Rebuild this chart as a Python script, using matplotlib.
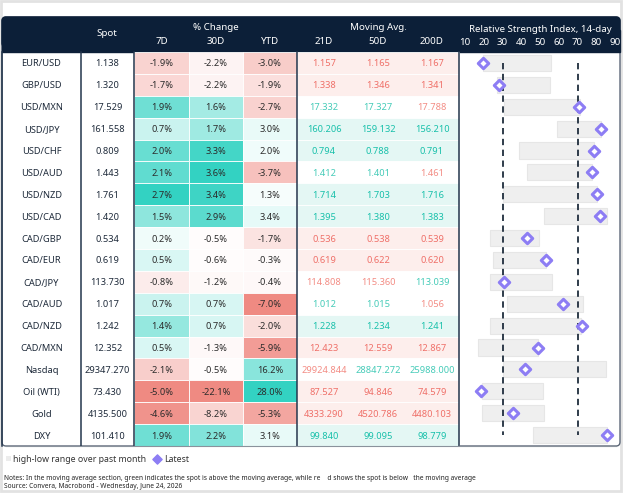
import matplotlib
matplotlib.use("Agg")
import matplotlib.pyplot as plt
from matplotlib.patches import Rectangle, FancyBboxPatch
from matplotlib.colors import to_rgb

plt.rcParams['font.family'] = ['Noto Sans', 'DejaVu Sans']

# ---- data ----
labels = ["EUR/USD", "GBP/USD", "USD/MXN", "USD/JPY", "USD/CHF", "USD/AUD", "USD/NZD",
          "USD/CAD", "CAD/GBP", "CAD/EUR", "CAD/JPY", "CAD/AUD", "CAD/NZD", "CAD/MXN",
          "Nasdaq", "Oil (WTI)", "Gold", "DXY"]
spot = [1.138, 1.320, 17.529, 161.558, 0.809, 1.443, 1.761, 1.420, 0.534, 0.619,
        113.730, 1.017, 1.242, 12.352, 29347.270, 73.430, 4135.500, 101.410]
chg_7d = [-1.9, -1.7, 1.9, 0.7, 2.0, 2.1, 2.7, 1.5, 0.2, 0.5, -0.8, 0.7, 1.4, 0.5, -2.1, -5.0, -4.6, 1.9]
chg_30d = [-2.2, -2.2, 1.6, 1.7, 3.3, 3.6, 3.4, 2.9, -0.5, -0.6, -1.2, 0.7, 0.7, -1.3, -0.5, -22.1, -8.2, 2.2]
chg_ytd = [-3.0, -1.9, -2.7, 3.0, 2.0, -3.7, 1.3, 3.4, -1.7, -0.3, -0.4, -7.0, -2.0, -5.9, 16.2, 28.0, -5.3, 3.1]
ma_21 = [1.157, 1.338, 17.332, 160.206, 0.794, 1.412, 1.714, 1.395, 0.536, 0.619,
         114.808, 1.012, 1.228, 12.423, 29924.844, 87.527, 4333.290, 99.840]
ma_50 = [1.165, 1.346, 17.327, 159.132, 0.788, 1.401, 1.703, 1.380, 0.538, 0.622,
         115.360, 1.015, 1.234, 12.559, 28847.272, 94.846, 4520.786, 99.095]
ma_200 = [1.167, 1.341, 17.788, 156.210, 0.791, 1.461, 1.716, 1.383, 0.539, 0.620,
          113.039, 1.056, 1.241, 12.867, 25988.000, 74.579, 4480.103, 98.779]
rsi_low = [19.5, 27.3, 31.0, 59.2, 39.0, 43.2, 30.1, 52.3, 23.5, 24.9, 23.3, 32.4, 23.3, 17.1, 30.4, 18.9, 19.2, 46.4]
rsi_high = [55.7, 55.3, 71.3, 82.4, 78.8, 77.6, 80.2, 85.9, 49.6, 53.0, 56.2, 72.7, 71.9, 49.1, 85.2, 51.8, 52.1, 85.6]
rsi_last = [19.5, 28.3, 71.0, 82.4, 78.8, 77.6, 80.2, 82.0, 42.9, 53.0, 31.0, 62.1, 72.2, 49.1, 41.8, 18.5, 35.4, 85.6]
rsi_ticks = [10, 20, 30, 40, 50, 60, 70, 80, 90]

NAVY = "#0c1f38"
TEAL = "#33d2c2"
RED = "#ef8a82"
MA_UP = "#17c0aa"
MA_DN = "#ef6f68"
PURPLE = "#8d7df4"

def blend(c, t):
    r, g, b = to_rgb(c)
    t = max(0.0, min(1.0, t))
    return (1 - t + t * r, 1 - t + t * g, 1 - t + t * b)

def pct_color(v, col):
    pos = max(x for x in col if x > 0)
    neg = min(x for x in col if x < 0)
    if v >= 0:
        return blend(TEAL, v / pos)
    return blend(RED, v / neg)

# ---- layout (pixels) ----
W, H = 625, 495
top, bot = 52, 446
n = len(labels)
pitch = (bot - top) / n
col_lab = (2, 81)
col_spot = (81, 134)
pct_cols = [(134, 189), (189, 243), (243, 297)]
ma_cols = [(297, 351), (351, 405), (405, 459)]
rsi_x = (459, 620)
FS = 6.7

fig = plt.figure(figsize=(W / 100, H / 100), dpi=100)
ax = fig.add_axes([0, 0, 1, 1])
ax.set_xlim(0, W)
ax.set_ylim(H, 0)
ax.axis("off")

# outer frame
ax.add_patch(Rectangle((1, 1), 620, 490, fill=False, ec="#e2e2e2", lw=2, zorder=0))

# card + header
ax.add_patch(FancyBboxPatch((2, 17), 618, bot - 17, boxstyle="round,pad=0,rounding_size=4",
                            fc="white", ec="#5d6878", lw=1.0, zorder=1))
ax.add_patch(FancyBboxPatch((2, 17), 618, 30, boxstyle="round,pad=0,rounding_size=4",
                            fc=NAVY, ec=NAVY, lw=1.0, zorder=2))
ax.add_patch(Rectangle((2, 30), 618, top - 30, fc=NAVY, ec=NAVY, lw=1.0, zorder=2))

hdr = dict(color="white", fontsize=7, fontweight="bold", ha="center", va="center", zorder=5)
ax.text(107, 34, "Spot", **hdr)
ax.text(216, 27, "% Change", **hdr)
ax.text(378, 27, "Moving Avg.", **hdr)
for (a, b), t in zip(pct_cols, ["7D", "30D", "YTD"]):
    ax.text((a + b) / 2, 41, t, **hdr)
for (a, b), t in zip(ma_cols, ["21D", "50D", "200D"]):
    ax.text((a + b) / 2, 41, t, **hdr)
ax.text(540, 30, "Relative Strength Index, 14-day", **hdr)

txt = dict(fontsize=FS, ha="center", va="center_baseline", zorder=5)
for i in range(n):
    y0 = top + i * pitch
    yc = y0 + pitch / 2
    ax.text(sum(col_lab) / 2, yc, labels[i], color="#1f2b3b", **txt)
    ax.text(sum(col_spot) / 2, yc, f"{spot[i]:.3f}", color="#1f2b3b", **txt)
    for (a, b), col in zip(pct_cols, [chg_7d, chg_30d, chg_ytd]):
        ax.add_patch(Rectangle((a, y0), b - a, pitch, fc=pct_color(col[i], col),
                               ec="white", lw=0.6, zorder=3))
        ax.text((a + b) / 2, yc, f"{col[i]:.1f}%", color="#2b2b2b", **txt)
    mas = [ma_21[i], ma_50[i], ma_200[i]]
    above = [spot[i] > m for m in mas]
    if all(above):
        bg, up, dn, fw = "#e4f7f4", MA_UP, MA_DN, "semibold"
    elif not any(above):
        bg, up, dn, fw = "#fdeeec", MA_UP, MA_DN, "semibold"
    else:
        bg, up, dn, fw = "white", "#45cbb8", "#f38c84", "normal"
    ax.add_patch(Rectangle((ma_cols[0][0], y0), ma_cols[-1][1] - ma_cols[0][0], pitch,
                           fc=bg, ec="white", lw=0.6, zorder=3))
    for (a, b), m, ab in zip(ma_cols, mas, above):
        ax.text((a + b) / 2, yc, f"{m:.3f}", color=up if ab else dn, fontweight=fw, **txt)

# column dividers
for x in [col_lab[1], col_spot[1], pct_cols[-1][1], ma_cols[-1][1]]:
    ax.plot([x, x], [top, bot], color="#23354c", lw=1.1, zorder=6)
ax.plot([2, 2], [top, bot], color="#23354c", lw=1.1, zorder=6)
ax.plot([6, 616], [bot, bot], color="#8a929c", lw=0.8, zorder=6)

# ---- RSI panel ----
px_per = (615 - 465) / 80
xl = (10 + (rsi_x[0] - 465) / px_per, 90 + (rsi_x[1] - 615) / px_per)
rax = fig.add_axes([rsi_x[0] / W, (H - bot) / H, (rsi_x[1] - rsi_x[0]) / W, (bot - top) / H])
rax.set_facecolor("none")
rax.set_xlim(*xl)
rax.set_ylim(n - 0.5, -0.5)
rows = list(range(n))
rax.barh(rows, [h - l for h, l in zip(rsi_high, rsi_low)], left=rsi_low, height=0.74,
         color="#efefef", edgecolor="#e6e6e6", lw=0.8, zorder=1)
rax.vlines([30, 70], 0, n - 1, colors="#1f2d3d", linestyles=(0, (3.5, 2.5)), lw=1.3, zorder=2)
rax.scatter(rsi_last, rows, marker="D", s=28, facecolor="white", edgecolor=PURPLE, lw=2.2, zorder=3)
rax.set_xticks(rsi_ticks)
rax.set_yticks([])
rax.xaxis.tick_top()
rax.tick_params(axis="x", length=0, pad=3.5, labelsize=7, labelcolor="white")
for lab in rax.get_xticklabels():
    lab.set_fontweight("bold")
for s in rax.spines.values():
    s.set_visible(False)

# ---- legend & notes ----
ax.add_patch(Rectangle((6, 456), 5, 5, fc="#ececec", ec="none"))
ax.text(13, 459, "high-low range over past month", fontsize=6.3, color="#333333", va="center")
ax.scatter([157], [459], marker="D", s=22, color=PURPLE)
ax.text(164, 459, "Latest", fontsize=6.3, color="#333333", va="center")
ax.text(4, 478, "Notes: In the moving average section, green indicates the spot is above the moving "
        "average, while re    d shows the spot is below   the moving average",
        fontsize=4.8, color="#222222", va="center")
ax.text(4, 486, "Source: Convera, Macrobond - Wednesday, June 24, 2026",
        fontsize=4.8, color="#222222", va="center")

fig.savefig("out.png", dpi=100)
